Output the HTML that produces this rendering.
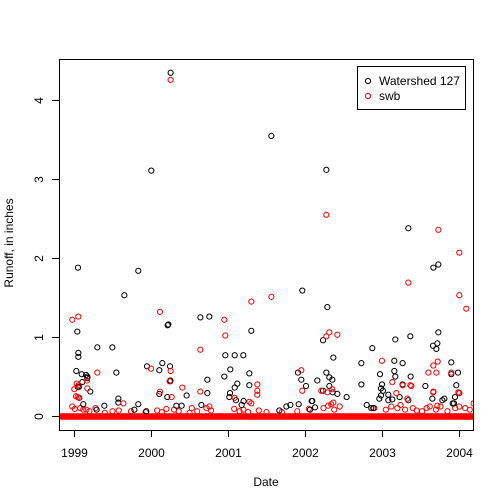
<!DOCTYPE html>
<html><head><meta charset="utf-8"><style>
html,body{margin:0;padding:0;background:#fff}
svg{display:block;font-family:"Liberation Sans",Arial,sans-serif}
</style></head><body>
<svg id="chart" width="504" height="504" viewBox="0 0 504 504">
<rect width="504" height="504" fill="#fff"/>
<g id="marks"></g>
<rect x="59.5" y="59.5" width="414" height="371" fill="none" stroke="#000" stroke-width="1"/>
<g id="axes"></g>
<text x="266" y="486" text-anchor="middle" font-size="12">Date</text>
<text transform="translate(13,243) rotate(-90)" text-anchor="middle" font-size="12">Runoff, in inches</text>
<g>
<rect x="357.5" y="66.5" width="108" height="43" fill="#fff" stroke="#000"/>
<circle cx="368" cy="81" r="2.6" fill="none" stroke="#000"/>
<text x="379" y="85" font-size="12">Watershed 127</text>
<circle cx="368" cy="96" r="2.6" fill="none" stroke="#f00"/>
<text x="379" y="100" font-size="12">swb</text>
</g>
</svg>
<script>
const xTicks=[1999,2000,2001,2002,2003,2004];
const yTicks=[0,1,2,3,4];
const obsDates=[1999.052,1999.043,1999.056,1999.056,1999.030,1999.048,1999.065,1999.069,1999.100,1999.108,1999.121,1999.156,1999.173,1999.173,1999.212,1999.303,1999.294,1999.394,1999.498,1999.550,1999.576,1999.576,1999.654,1999.784,1999.835,1999.835,1999.948,1999.939,2000.004,2000.108,2000.147,2000.108,2000.216,2000.225,2000.212,2000.247,2000.251,2000.251,2000.255,2000.329,2000.398,2000.463,2000.641,2000.758,2000.732,2000.732,2000.654,2000.952,2000.965,2001.030,2001.026,2001.017,2001.087,2001.087,2001.121,2001.104,2001.199,2001.203,2001.177,2001.277,2001.277,2001.303,2001.563,2001.667,2001.758,2001.810,2001.909,2001.918,2001.952,2001.965,2002.013,2002.065,2002.087,2002.095,2002.130,2002.160,2002.234,2002.234,2002.277,2002.277,2002.290,2002.316,2002.355,2002.368,2002.316,2002.359,2002.420,2002.541,2002.732,2002.732,2002.801,2002.861,2002.874,2002.887,2002.965,2002.974,2003.013,2003.000,2002.987,2002.987,2003.082,2003.082,2003.134,2003.160,2003.173,2003.173,2003.160,2003.229,2003.268,2003.268,2003.342,2003.342,2003.368,2003.372,2003.563,2003.654,2003.732,2003.667,2003.662,2003.706,2003.719,2003.732,2003.784,2003.810,2003.900,2003.900,2003.918,2003.935,2003.948,2003.965,2003.987,2004.004];
const obsValues=[1.88,1.07,0.80,0.75,0.57,0.37,0.37,0.23,0.53,0.43,0.15,0.52,0.50,0.48,0.31,0.87,0.08,0.13,0.87,0.55,0.22,0.17,1.53,0.08,1.84,0.15,0.63,0.06,3.11,0.58,0.67,0.28,1.15,1.16,0.24,0.63,0.45,0.44,4.35,0.13,0.13,0.26,1.25,1.26,0.46,0.29,0.14,0.50,0.77,0.59,0.29,0.24,0.77,0.36,0.41,0.20,0.77,0.19,0.14,0.54,0.39,1.08,3.55,0.07,0.12,0.14,0.55,0.15,0.46,1.59,0.38,0.08,0.19,0.19,0.11,0.45,0.32,0.96,0.55,3.12,1.38,0.49,0.46,0.74,0.38,0.30,0.28,0.24,0.40,0.67,0.14,0.10,0.86,0.10,0.22,0.53,0.32,0.40,0.35,0.26,0.20,0.27,0.21,0.57,0.50,0.97,0.70,0.24,0.40,0.67,0.20,2.38,1.01,0.50,0.38,0.22,1.92,1.88,0.89,0.85,0.92,1.06,0.20,0.22,0.53,0.68,0.16,0.16,0.24,0.39,0.55,0.29,4.49];
const simDates=[1998.978,1999.056,1999.035,1999.061,1999.026,1999.065,1999.048,1998.978,1999.169,1999.173,1999.303,1999.641,1999.004,2000.000,2000.117,2000.117,2000.255,2000.255,2000.242,2000.268,2000.407,2000.641,2000.641,2000.758,2000.952,2000.965,2001.087,2001.303,2001.277,2001.303,2001.381,2001.381,2001.381,2001.563,2001.952,2001.965,2002.212,2002.277,2002.277,2002.316,2002.420,2002.290,2002.355,2002.368,2003.000,2003.134,2003.186,2003.268,2003.342,2003.329,2003.368,2003.381,2003.602,2003.654,2003.667,2003.667,2003.667,2003.706,2003.723,2003.732,2003.719,2003.900,2004.004,2004.004,2004.095,2003.991,2004.004,2004.004,2004.190];
const simValues=[1.22,1.26,0.41,0.39,0.25,0.23,0.24,0.12,0.45,0.35,0.55,0.16,0.34,0.60,1.32,0.31,4.26,0.57,0.44,0.24,0.36,0.84,0.31,0.12,1.22,1.02,0.23,1.45,0.18,0.16,0.40,0.32,0.27,1.51,0.58,0.32,0.32,2.55,1.01,1.06,1.03,0.30,0.34,0.17,0.70,0.43,0.29,0.39,1.69,0.22,0.39,0.38,0.55,3.97,0.64,0.31,0.30,0.55,0.69,2.36,0.13,0.55,2.07,1.53,1.36,0.30,0.29,0.12,0.16];
const smallSimDates=[1999.01,1999.08,1999.12,1999.16,1999.2,1999.28,1999.4,1999.5,1999.58,1999.74,1999.93,2000.08,2000.14,2000.2,2000.3,2000.36,2000.5,2000.53,2000.6,2000.72,2000.78,2001.08,2001.15,2001.2,2001.26,2001.4,2001.5,2001.7,2001.9,2002.05,2002.24,2002.3,2002.34,2002.38,2002.45,2002.9,2003.05,2003.12,2003.2,2003.24,2003.3,2003.4,2003.45,2003.52,2003.58,2003.62,2003.7,2003.76,2003.85,2003.95,2004.08,2004.14];
const smallSimValues=[0.09,0.1,0.08,0.08,0.06,0.1,0.04,0.06,0.07,0.06,0.05,0.07,0.05,0.09,0.08,0.06,0.04,0.1,0.06,0.1,0.07,0.09,0.06,0.08,0.05,0.07,0.05,0.05,0.06,0.09,0.1,0.13,0.15,0.08,0.12,0.1,0.08,0.12,0.1,0.14,0.08,0.1,0.07,0.06,0.1,0.12,0.08,0.12,0.06,0.1,0.1,0.08];
const startYear=1998.83, endYear=2004.2, zeroValue=0;

const ns="http://www.w3.org/2000/svg";
function xs(t){return 74+77*(t-1999);}
function ys(v){return 416-78.9*v;}
const marks=document.getElementById('marks');
const axes=document.getElementById('axes');
function mk(tag,attrs,parent){const e=document.createElementNS(ns,tag);for(const k in attrs)e.setAttribute(k,attrs[k]);parent.appendChild(e);return e;}
const clip=mk('clipPath',{id:'pc'},marks);mk('rect',{x:59.5,y:59.5,width:414,height:371},clip);
const g=mk('g',{'clip-path':'url(#pc)'},marks);
// zero-valued swb days
for(let t=startYear;t<=endYear;t+=1/365){
  const c=mk('circle',{cx:xs(t),cy:ys(zeroValue)+0.5,r:2.6,fill:'none',stroke:'#f00'},g);
  
  
}
smallSimDates.forEach((t,i)=>{
  const c=mk('circle',{cx:xs(t),cy:ys(smallSimValues[i]),r:2.6,fill:'none',stroke:'#f00'},g);
  
  
});
obsDates.forEach((t,i)=>{
  const c=mk('circle',{cx:xs(t),cy:ys(obsValues[i]),r:2.6,fill:'none',stroke:'#000'},g);
  
  
});
simDates.forEach((t,i)=>{
  const c=mk('circle',{cx:xs(t),cy:ys(simValues[i]),r:2.6,fill:'none',stroke:'#f00'},g);
  
  
});
xTicks.forEach(t=>{
  const x=Math.round(xs(t))+0.5;
  const l=mk('line',{x1:x,x2:x,y1:430,y2:437,stroke:'#000'},axes);
  
  
  const tx=mk('text',{x:x,y:457,'text-anchor':'middle','font-size':12},axes);
  tx.textContent=String(t);
  
  
});
yTicks.forEach(v=>{
  const y=Math.round(ys(v))+0.5;
  const l=mk('line',{x1:52,x2:59,y1:y,y2:y,stroke:'#000'},axes);
  
  
  const tx=mk('text',{transform:'translate(43,'+y+') rotate(-90)','text-anchor':'middle','font-size':12},axes);
  tx.textContent=String(v);
  
  
});
</script>
</body></html>
